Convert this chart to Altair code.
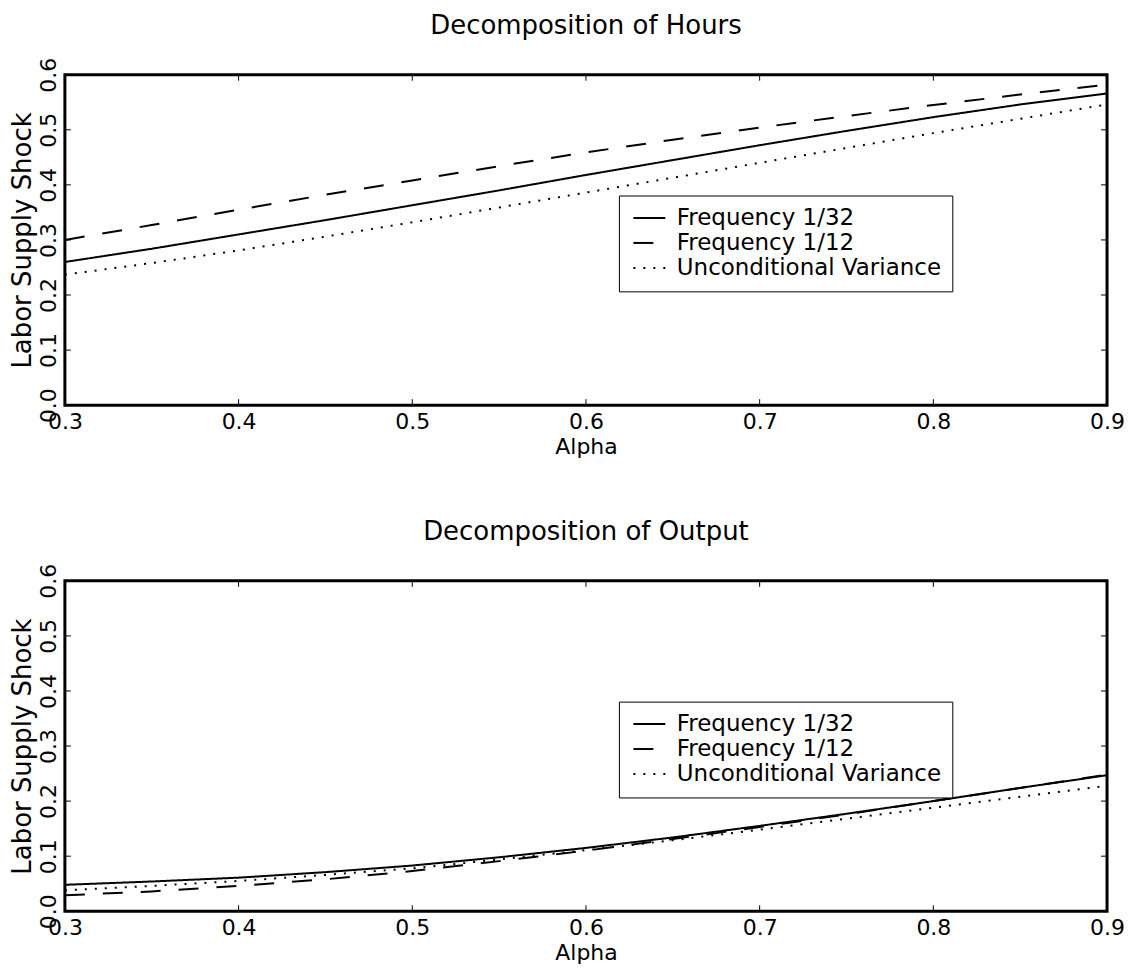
import altair as alt
import pandas as pd

# ---------------- data ----------------
alpha = [0.30, 0.35, 0.40, 0.45, 0.50, 0.55, 0.60, 0.65, 0.70, 0.75, 0.80, 0.85, 0.90]
series_names = ["Frequency 1/32", "Frequency 1/12", "Unconditional Variance"]

hours_f32 = [0.260, 0.284, 0.310, 0.336, 0.363, 0.390, 0.418, 0.445, 0.472, 0.498, 0.523, 0.546, 0.566]
hours_f12 = [0.300, 0.327, 0.355, 0.382, 0.408, 0.434, 0.459, 0.482, 0.504, 0.525, 0.545, 0.564, 0.582]
hours_unc = [0.237, 0.258, 0.281, 0.306, 0.332, 0.359, 0.386, 0.413, 0.440, 0.467, 0.494, 0.520, 0.546]

output_f32 = [0.048, 0.054, 0.061, 0.071, 0.083, 0.098, 0.115, 0.134, 0.155, 0.177, 0.200, 0.224, 0.247]
output_f12 = [0.029, 0.036, 0.046, 0.058, 0.073, 0.091, 0.110, 0.131, 0.153, 0.176, 0.200, 0.224, 0.248]
output_unc = [0.038, 0.046, 0.055, 0.066, 0.078, 0.094, 0.111, 0.129, 0.148, 0.168, 0.188, 0.208, 0.228]

x_tick_values = [0.3, 0.4, 0.5, 0.6, 0.7, 0.8, 0.9]
y_tick_values = [0.0, 0.1, 0.2, 0.3, 0.4, 0.5, 0.6]
inner_x_ticks = [0.4, 0.5, 0.6, 0.7, 0.8]
inner_y_ticks = [0.1, 0.2, 0.3, 0.4, 0.5]

FONT = "DejaVu Sans"
W, H = 1044, 331
TICK = 6


def panel(title, f32, f12, unc):
    rows = []
    for name, vals in zip(series_names, [f32, f12, unc]):
        for a, v in zip(alpha, vals):
            rows.append({"alpha": a, "value": v, "series": name})
    df = pd.DataFrame(rows)

    xscale = alt.Scale(domain=[0.3, 0.9], nice=False, zero=False)
    yscale = alt.Scale(domain=[0.0, 0.6], nice=False)
    xaxis = alt.Axis(values=x_tick_values, format=".1f", title="Alpha",
                     labelFlush=False, labelPadding=6, titlePadding=4, titleFontSize=22)
    yaxis = alt.Axis(values=y_tick_values, format=".1f", title="Labor Supply Shock",
                     labelAngle=270, labelAlign="center", labelBaseline="bottom",
                     labelFlush=False, labelPadding=4, titlePadding=2, titleFontSize=26)

    lines = alt.Chart(df).mark_line(color="black", strokeWidth=2).encode(
        x=alt.X("alpha:Q", scale=xscale, axis=xaxis),
        y=alt.Y("value:Q", scale=yscale, axis=yaxis),
        strokeDash=alt.StrokeDash(
            "series:N",
            scale=alt.Scale(domain=series_names, range=[[1, 0], [20, 18], [2, 8]]),
            legend=alt.Legend(
                title=None, orient="none", legendX=555, legendY=121,
                fillColor="white", strokeColor="black", padding=11,
                labelFont=FONT, labelFontSize=23, labelColor="black", labelOffset=24,
                labelLimit=600,
                symbolType="M-1,0H3", symbolSize=256, symbolStrokeWidth=2,
                symbolStrokeColor="black", rowPadding=1,
            ),
        ),
        detail="series:N",
    )

    xt_df = pd.DataFrame({"t": inner_x_ticks})
    yt_df = pd.DataFrame({"t": inner_y_ticks})
    bottom_ticks = alt.Chart(xt_df).mark_rule(color="black", strokeWidth=1).encode(
        x=alt.X("t:Q", scale=xscale, axis=xaxis), y=alt.value(H), y2=alt.value(H - TICK))
    top_ticks = alt.Chart(xt_df).mark_rule(color="black", strokeWidth=1).encode(
        x=alt.X("t:Q", scale=xscale, axis=xaxis), y=alt.value(0), y2=alt.value(TICK))
    left_ticks = alt.Chart(yt_df).mark_rule(color="black", strokeWidth=1).encode(
        y=alt.Y("t:Q", scale=yscale, axis=yaxis), x=alt.value(0), x2=alt.value(TICK))
    right_ticks = alt.Chart(yt_df).mark_rule(color="black", strokeWidth=1).encode(
        y=alt.Y("t:Q", scale=yscale, axis=yaxis), x=alt.value(W), x2=alt.value(W - TICK))

    return alt.layer(lines, bottom_ticks, top_ticks, left_ticks, right_ticks).properties(
        width=W, height=H,
        title=alt.TitleParams(title, font=FONT, fontSize=26, fontWeight="normal",
                              color="black", offset=18, anchor="middle"),
    )


top = panel("Decomposition of Hours", hours_f32, hours_f12, hours_unc)
bottom = panel("Decomposition of Output", output_f32, output_f12, output_unc)

chart = alt.vconcat(top, bottom, spacing=59).resolve_legend(
    strokeDash="independent"
).properties(
    background="white",
    padding={"left": 0, "top": 3, "right": 0, "bottom": 0},
).configure_view(
    stroke="black", strokeWidth=3
).configure_axis(
    domain=False, ticks=False, grid=False,
    labelFont=FONT, labelFontSize=22, labelColor="black",
    titleFont=FONT, titleFontWeight="normal", titleColor="black",
)

chart.save("out.html", embed_options={"renderer": "svg", "actions": False})
